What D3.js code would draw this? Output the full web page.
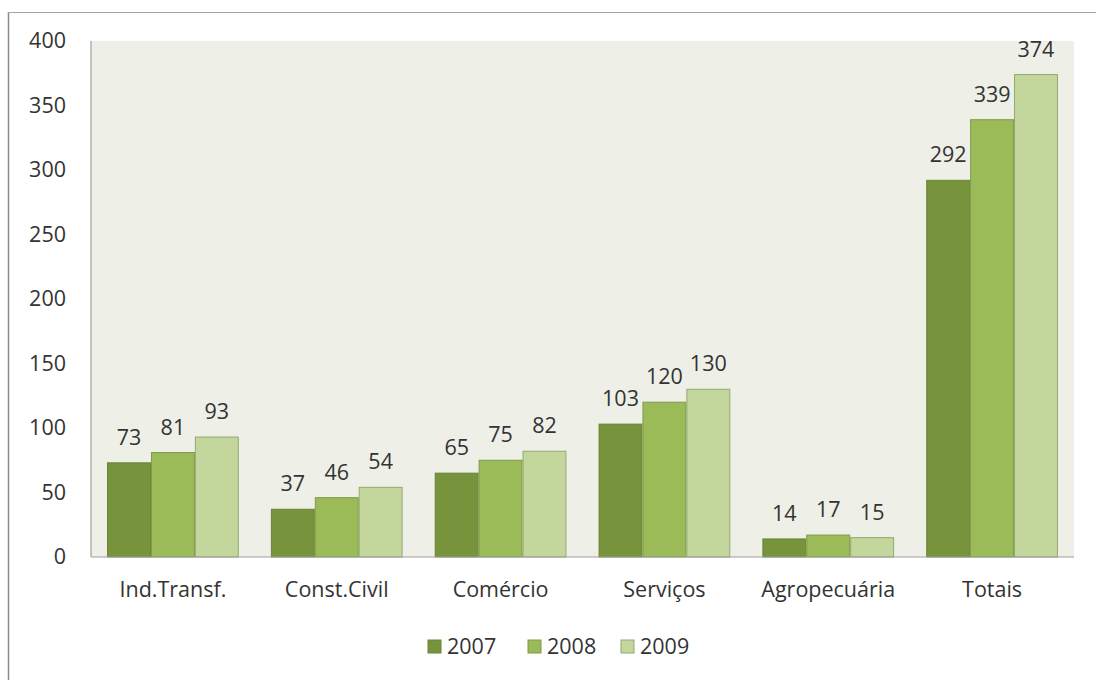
<!DOCTYPE html>
<html>
<head>
<meta charset="utf-8">
<script src="https://cdn.jsdelivr.net/npm/d3@7"></script>
<style>
  html, body { margin: 0; padding: 0; background: #ffffff; }
  svg { display: block; }
  text { font-family: "Open Sans", "DejaVu Sans", sans-serif; fill: #333333; }
</style>
</head>
<body>
<svg id="chart" width="1096" height="680"></svg>
<script>
// Sectors and yearly values
const categories = ["Ind.Transf.", "Const.Civil", "Comércio", "Serviços", "Agropecuária", "Totais"];
const years = ["2007", "2008", "2009"];
const values2007 = [73, 37, 65, 103, 14, 292];
const values2008 = [81, 46, 75, 120, 17, 339];
const values2009 = [93, 54, 82, 130, 15, 374];
const yTicks = [0, 50, 100, 150, 200, 250, 300, 350, 400];

const seriesValues = [values2007, values2008, values2009];
const fills = ["#77933c", "#9bbb59", "#c3d69b"];
const strokes = ["#6a8535", "#7f9a48", "#95a872"];
const FONT = 21.5;

const svg = d3.select("#chart");

// Outer frame (left and top edges)
svg.append("line").attr("x1", 8.5).attr("x2", 8.5).attr("y1", 12).attr("y2", 680)
  .attr("stroke", "#8c8c8c").attr("stroke-width", 1.5);
svg.append("line").attr("x1", 8).attr("x2", 1096).attr("y1", 12.5).attr("y2", 12.5)
  .attr("stroke", "#a6a6a6").attr("stroke-width", 1.2);

const plot = { left: 91, right: 1074, top: 41, bottom: 557 };

const x0 = d3.scaleBand().domain(categories).range([plot.left, plot.right]).paddingInner(0.196).paddingOuter(0.098);
const x1 = d3.scaleBand().domain(years).range([0, x0.bandwidth()]).padding(0);
const y = d3.scaleLinear().domain([0, 400]).range([plot.bottom, plot.top]);

// Plot background
svg.append("rect")
  .attr("x", plot.left).attr("y", plot.top)
  .attr("width", plot.right - plot.left).attr("height", plot.bottom - plot.top)
  .attr("fill", "#eef0e8");

// Bars
const groups = svg.append("g").selectAll("g")
  .data(categories)
  .join("g")
  .attr("transform", d => `translate(${x0(d)},0)`);

groups.selectAll("rect")
  .data((c, i) => years.map((yr, s) => ({ yr, s, v: seriesValues[s][i] })))
  .join("rect")
  .attr("x", d => x1(d.yr) + 0.5)
  .attr("y", d => y(d.v))
  .attr("width", x1.bandwidth() - 1)
  .attr("height", d => y(0) - y(d.v))
  .attr("fill", d => fills[d.s])
  .attr("stroke", d => strokes[d.s])
  .attr("stroke-width", 1);

// Value labels
groups.selectAll("text.val")
  .data((c, i) => years.map((yr, s) => ({ yr, s, v: seriesValues[s][i] })))
  .join("text")
  .attr("class", "val")
  .attr("x", d => x1(d.yr) + x1.bandwidth() / 2)
  .attr("y", d => y(d.v) - 18)
  .attr("text-anchor", "middle")
  .attr("font-size", FONT)
  .text(d => d.v);

// Axes lines
svg.append("line").attr("x1", plot.left).attr("x2", plot.left).attr("y1", plot.top).attr("y2", plot.bottom)
  .attr("stroke", "#a0a0a0").attr("stroke-width", 1.2);
svg.append("line").attr("x1", plot.left).attr("x2", plot.right).attr("y1", plot.bottom).attr("y2", plot.bottom)
  .attr("stroke", "#a0a0a0").attr("stroke-width", 1.2);

// Y tick labels
const yAxis = d3.axisLeft(y).tickValues(yTicks).tickSize(0).tickPadding(25);
const yg = svg.append("g").attr("transform", `translate(${plot.left},0)`).call(yAxis);
yg.select(".domain").remove();
yg.selectAll("text").attr("font-size", FONT).style("font-family", '"Open Sans", sans-serif').attr("fill", "#333333");

// X category labels
const xAxis = d3.axisBottom(x0).tickSize(0).tickPadding(25);
const xg = svg.append("g").attr("transform", `translate(0,${plot.bottom})`).call(xAxis);
xg.select(".domain").remove();
xg.selectAll("text").attr("font-size", FONT).style("font-family", '"Open Sans", sans-serif').attr("fill", "#333333");

// Legend
const legendX = [428, 528, 621];
const legend = svg.append("g").selectAll("g")
  .data(years)
  .join("g")
  .attr("transform", (d, i) => `translate(${legendX[i]},640)`);
legend.append("rect")
  .attr("width", 13).attr("height", 13)
  .attr("fill", (d, i) => fills[i])
  .attr("stroke", (d, i) => strokes[i]);
legend.append("text")
  .attr("x", 19).attr("y", 14)
  .attr("font-size", FONT)
  .text(d => d);
</script>
</body>
</html>
